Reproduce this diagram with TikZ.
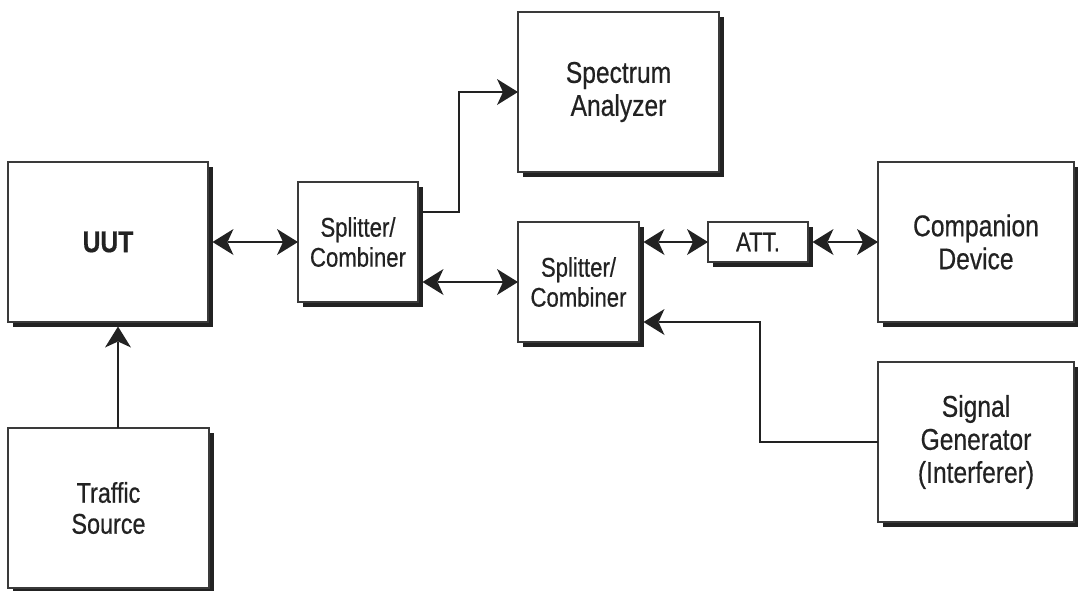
\documentclass[tikz,border=0pt]{standalone}
\usepackage{fontspec}
\setmainfont[FakeStretch=0.82,FakeBold=0.5]{Liberation Sans}
\usetikzlibrary{arrows.meta,shadows}
\definecolor{ink}{HTML}{222222}
\definecolor{edge}{HTML}{3A3A3A}
\tikzset{
  blk/.style={draw=edge, line width=1.4pt, fill=white, align=center, text=ink,
    inner sep=0pt, outer sep=0pt,
    drop shadow={shadow xshift=4.5pt, shadow yshift=-4.5pt, opacity=1, fill=ink}},
  big/.style={font=\fontsize{30}{33}\selectfont},
  mid/.style={font=\fontsize{27}{30}\selectfont},
  midb/.style={font=\fontsize{28.5}{31}\selectfont},
  conn/.style={draw=ink, line width=1.8pt},
  one/.style={conn, -{Stealth[length=21pt 0 0, width=26pt 0 0, inset=6pt 0 0, line width=0pt]}},
  two/.style={conn, {Stealth[length=21pt 0 0, width=26pt 0 0, inset=6pt 0 0, line width=0pt]}-{Stealth[length=21pt 0 0, width=26pt 0 0, inset=6pt 0 0, line width=0pt]}}
}
\begin{document}
\begin{tikzpicture}[x=1pt, y=-1pt]
\useasboundingbox (0,0) rectangle (1078,590);

\node[blk, big, minimum width=200pt, minimum height=160pt] (uut) at (108,242) {\bfseries UUT};
\node[blk, midb, minimum width=201pt, minimum height=160pt] (traffic) at (108.5,508) {Traffic\\Source};
\node[blk, mid, minimum width=120pt, minimum height=120pt] (spl1) at (358,242) {Splitter/\\Combiner};
\node[blk, mid, minimum width=121pt, minimum height=120pt] (spl2) at (578.5,282) {Splitter/\\Combiner};
\node[blk, big, minimum width=201pt, minimum height=160pt] (spec) at (618.5,92) {Spectrum\\Analyzer};
\node[blk, mid, minimum width=100pt, minimum height=40pt] (att) at (758,242) {ATT.};
\node[blk, big, minimum width=196pt, minimum height=160pt] (comp) at (976,242) {Companion\\Device};
\node[blk, big, minimum width=196pt, minimum height=160pt] (sig) at (976,442) {Signal\\Generator\\(Interferer)};

\coordinate (k1) at (459,212);
\coordinate (k2) at (760,442);

\draw[two] ([xshift=4.5pt]uut.east) -- (spl1.west);
\draw[one] ([xshift=9.5pt]traffic.north) -- ([xshift=10pt,yshift=-4.5pt]uut.south);
\draw[one] ([xshift=4.5pt]spl1.east |- k1) -- (k1) |- (spec.west);
\draw[two] ([xshift=4.5pt,yshift=-40pt]spl1.east) -- (spl2.west);
\draw[two] ([xshift=4.5pt,yshift=40pt]spl2.east) -- (att.west);
\draw[two] ([xshift=4.5pt]att.east) -- (comp.west);
\draw[one] (sig.west) -- (k2) |- ([xshift=4.5pt,yshift=-40pt]spl2.east);
\end{tikzpicture}
\end{document}
